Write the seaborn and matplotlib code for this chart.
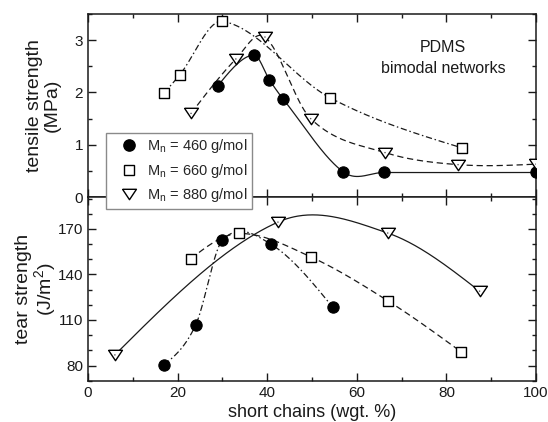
import numpy as np
import pandas as pd
import matplotlib
matplotlib.use("Agg")
import matplotlib.pyplot as plt
import seaborn as sns
from matplotlib.lines import Line2D
from matplotlib.ticker import MultipleLocator

# Tensile strength (MPa) against short-chain content (wgt. %)
ts_460_x = [29, 37, 40.5, 43.5, 57, 66, 100]
ts_460_y = [2.13, 2.72, 2.24, 1.88, 0.48, 0.47, 0.47]
ts_660_x = [17, 20.5, 30, 54, 83.5]
ts_660_y = [1.99, 2.34, 3.36, 1.90, 0.94]
ts_880_x = [23, 33, 39.5, 49.7, 66.3, 82.6, 100]
ts_880_y = [1.60, 2.64, 3.06, 1.50, 0.85, 0.62, 0.63]

# Tear strength (J/m^2) against short-chain content (wgt. %)
tr_460_x = [17, 24, 30, 40.8, 54.6]
tr_460_y = [80.5, 106.5, 162.5, 160, 118.5]
tr_660_x = [23, 33.8, 49.8, 67, 83.3]
tr_660_y = [150.5, 167, 151.5, 122.5, 89]
tr_880_x = [6, 42.4, 66.9, 87.4]
tr_880_y = [87, 174.5, 167.3, 129]

series_labels = ["M$_n$ = 460 g/mol", "M$_n$ = 660 g/mol", "M$_n$ = 880 g/mol"]

sns.set_style("ticks")
plt.rcParams["font.family"] = ["Liberation Sans", "DejaVu Sans"]
plt.rcParams["mathtext.default"] = "regular"

INK = "#1a1a1a"


def smooth_curve(x, y, n=300):
    """Catmull-Rom (cubic Hermite) curve passing through every measured point."""
    x = np.asarray(x, float)
    y = np.asarray(y, float)
    k = len(x)
    m = np.empty(k)
    m[1:-1] = (y[2:] - y[:-2]) / (x[2:] - x[:-2])
    m[0] = (y[1] - y[0]) / (x[1] - x[0])
    m[-1] = (y[-1] - y[-2]) / (x[-1] - x[-2])
    if k > 2:
        # end slopes continue the curvature of the neighbouring segment
        m[0] = 2 * m[0] - m[1]
        m[-1] = 2 * m[-1] - m[-2]
        s0 = (y[1] - y[0]) / (x[1] - x[0])
        s1 = (y[-1] - y[-2]) / (x[-1] - x[-2])
        m[0] = 0.5 * (m[0] + s0)
        m[-1] = 0.5 * (m[-1] + s1)
    xs = np.linspace(x[0], x[-1], n)
    idx = np.clip(np.searchsorted(x, xs) - 1, 0, k - 2)
    h = x[idx + 1] - x[idx]
    t = (xs - x[idx]) / h
    h00 = 2 * t ** 3 - 3 * t ** 2 + 1
    h10 = t ** 3 - 2 * t ** 2 + t
    h01 = -2 * t ** 3 + 3 * t ** 2
    h11 = t ** 3 - t ** 2
    ys = h00 * y[idx] + h10 * h * m[idx] + h01 * y[idx + 1] + h11 * h * m[idx + 1]
    return xs, ys


TRI = [(-1.0, 0.75), (1.0, 0.75), (0.0, -0.75), (-1.0, 0.75)]


def draw_curve(ax, x, y, ls):
    xs, ys = smooth_curve(x, y)
    df = pd.DataFrame({"x": xs, "y": ys})
    sns.lineplot(data=df, x="x", y="y", ax=ax, color=INK, linewidth=0.9,
                 linestyle=ls, sort=False, estimator=None, zorder=2)


def draw_points(ax, x, y, kind):
    df = pd.DataFrame({"x": x, "y": y})
    if kind == "circle":
        sns.scatterplot(data=df, x="x", y="y", ax=ax, marker="o", s=66,
                        color="black", edgecolor="black", linewidth=0.8, zorder=3)
    elif kind == "square":
        sns.scatterplot(data=df, x="x", y="y", ax=ax, marker="s", s=48,
                        color="white", edgecolor="black", linewidth=1.0, zorder=3)
    else:
        sns.scatterplot(data=df, x="x", y="y", ax=ax, marker=TRI, s=100,
                        color="white", edgecolor="black", linewidth=1.0, zorder=3)
        sns.scatterplot(data=df, x="x", y="y", ax=ax, marker="o", s=1.2,
                        color="#555555", edgecolor="none", zorder=4)


fig = plt.figure(figsize=(5.48, 4.22), dpi=100)
ax1 = fig.add_axes([0.1606, 0.533, 0.8175, 0.4338])
ax2 = fig.add_axes([0.1606, 0.0979, 0.8175, 0.4351])

DASHDOT = (0, (5, 2.2, 1.2, 2.2))
DASHED = (0, (5, 3))

# upper panel: tensile strength
draw_curve(ax1, ts_460_x, ts_460_y, "-")
draw_curve(ax1, ts_660_x, ts_660_y, DASHDOT)
draw_curve(ax1, ts_880_x, ts_880_y, DASHED)
draw_points(ax1, ts_460_x, ts_460_y, "circle")
draw_points(ax1, ts_660_x, ts_660_y, "square")
draw_points(ax1, ts_880_x, ts_880_y, "triangle")

# lower panel: tear strength
draw_curve(ax2, tr_460_x, tr_460_y, DASHDOT)
draw_curve(ax2, tr_660_x, tr_660_y, DASHED)
draw_curve(ax2, tr_880_x, tr_880_y, "-")
draw_points(ax2, tr_460_x, tr_460_y, "circle")
draw_points(ax2, tr_660_x, tr_660_y, "square")
draw_points(ax2, tr_880_x, tr_880_y, "triangle")

for ax in (ax1, ax2):
    ax.set_xlim(0, 100)
    ax.xaxis.set_major_locator(MultipleLocator(20))
    ax.xaxis.set_minor_locator(MultipleLocator(10))
    ax.tick_params(which="both", direction="in", top=True, right=True,
                   width=1.0, color=INK, labelsize=11, labelcolor=INK)
    ax.tick_params(which="major", length=5.5)
    ax.tick_params(which="minor", length=3)
    for sp in ax.spines.values():
        sp.set_visible(True)
        sp.set_linewidth(1.1)
        sp.set_color(INK)
    ax.set_facecolor("white")

ax1.set_ylim(0, 3.5)
ax1.yaxis.set_major_locator(MultipleLocator(1))
ax1.yaxis.set_minor_locator(MultipleLocator(0.5))
ax1.tick_params(labelbottom=False)
ax1.set_xlabel("")

ax2.set_ylim(70, 191)
ax2.yaxis.set_minor_locator(MultipleLocator(10))
ax2.set_yticks([80, 110, 140, 170])

ax1.set_ylabel("tensile strength\n(MPa)", fontsize=14, linespacing=1.05, color=INK)
ax1.yaxis.set_label_coords(-0.1, 0.5)
ax1.yaxis.label.set_verticalalignment("center")

ax2.set_ylabel("tear strength\n(J/m$^2$)", fontsize=14, linespacing=1.05, color=INK)
ax2.yaxis.set_label_coords(-0.115, 0.5)
ax2.yaxis.label.set_verticalalignment("center")

ax2.set_xlabel("short chains (wgt. %)", fontsize=13, color=INK, labelpad=3)

ax1.text(79.2, 2.86, "PDMS", ha="center", va="center", fontsize=11.5, color=INK)
ax1.text(79.2, 2.46, "bimodal networks", ha="center", va="center", fontsize=11.5, color=INK)

handles = [
    Line2D([], [], linestyle="none", marker="o", markersize=8.1,
           markerfacecolor="black", markeredgecolor="black"),
    Line2D([], [], linestyle="none", marker="s", markersize=6.9,
           markerfacecolor="white", markeredgecolor="black", markeredgewidth=1.0),
    Line2D([], [], linestyle="none", marker=TRI, markersize=10,
           markerfacecolor="white", markeredgecolor="black", markeredgewidth=1.0),
]
fig.legend(handles, series_labels, loc="upper left",
           bbox_to_anchor=(106 / 548, 1 - 133 / 422), bbox_transform=fig.transFigure,
           frameon=True, fancybox=False, framealpha=1, edgecolor="#8a8a8a",
           fontsize=10.5, handlelength=2.5, handletextpad=0.0, labelspacing=0.45,
           borderpad=0.3, borderaxespad=0)

fig.savefig("out.png", dpi=100)
